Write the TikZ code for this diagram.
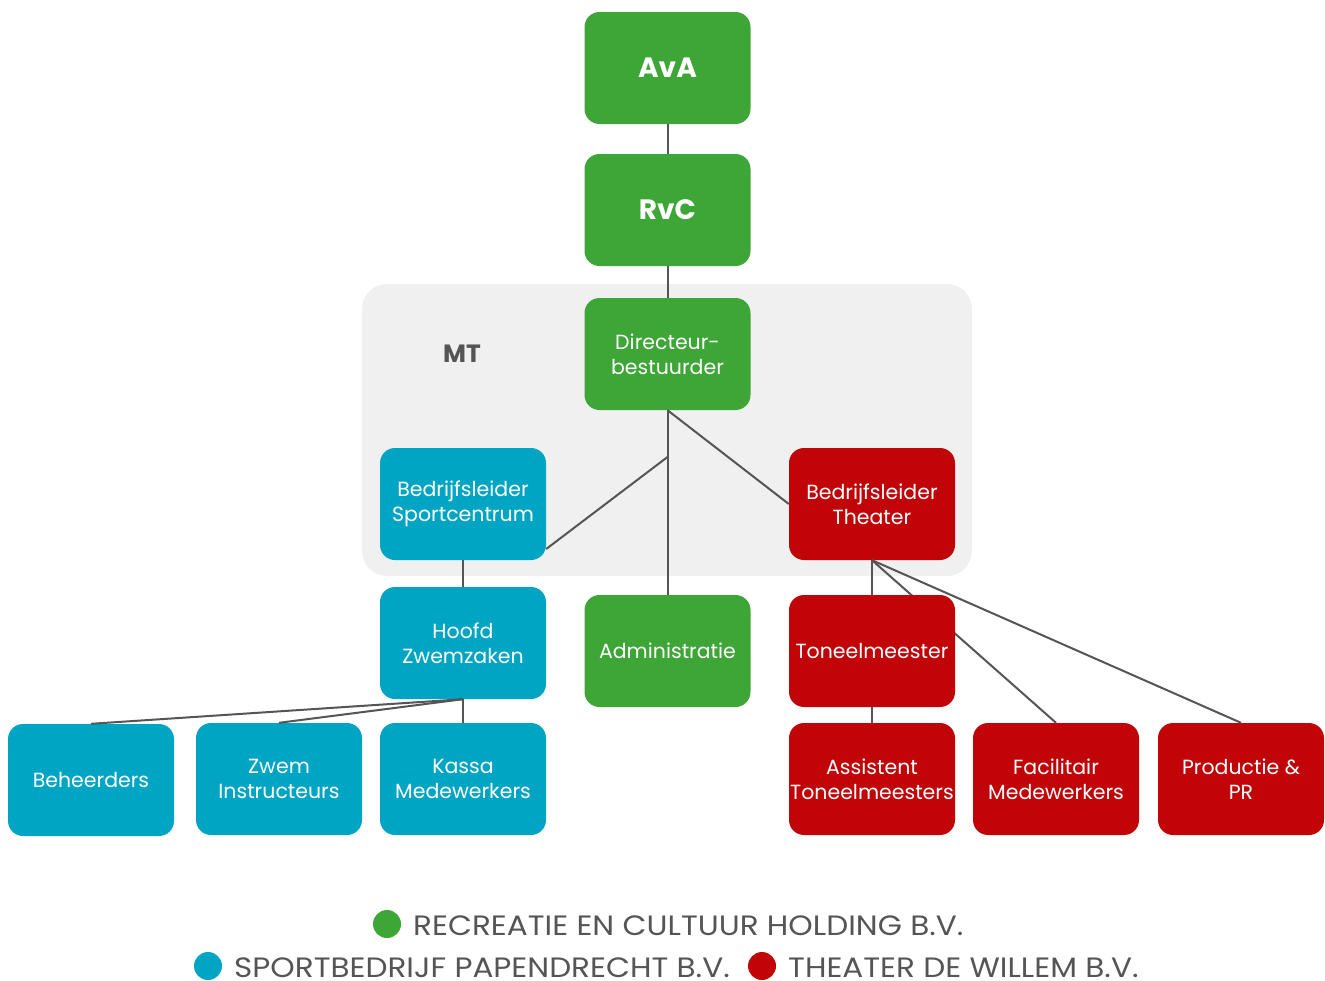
\documentclass[tikz,border=0pt]{standalone}
\usepackage{fontspec}
\setmainfont{Poppins}
\definecolor{cgreen}{HTML}{3DA636}
\definecolor{cblue}{HTML}{00A5C4}
\definecolor{cred}{HTML}{C00407}
\definecolor{cline}{HTML}{555555}
\definecolor{cmt}{HTML}{F0F0F0}
\definecolor{ctext}{HTML}{555555}
\tikzset{
  box/.style={rounded corners=15pt, minimum width=166pt, minimum height=112pt, inner sep=0pt,
    text=white, align=center, font=\fontsize{20.5}{25}\selectfont},
  gbox/.style={box, fill=cgreen},
  bbox/.style={box, fill=cblue},
  rbox/.style={box, fill=cred},
  bigt/.style={font=\fontsize{28}{32}\selectfont\bfseries},
  conn/.style={draw=cline, line width=2pt},
  legtext/.style={text=ctext, anchor=west, inner sep=0pt, font=\fontsize{28}{32}\selectfont},
  dot/.style={circle, minimum size=28pt, inner sep=0pt},
}
\newcommand{\legw}[1]{\scalebox{1.11}[1]{#1}}
\begin{document}
\begin{tikzpicture}[x=1pt,y=-1pt]
\useasboundingbox (0,0) rectangle (1325,980);
% MT background
\fill[cmt, rounded corners=25pt] (362,284) rectangle (972,576);
\node[text=ctext, font=\fontsize{25}{28}\selectfont\bfseries] (mt) at (462,354) {MT};
\coordinate (mid) at (667.5,457);
\node[gbox, bigt] (ava) at (667.5,68) {AvA};
\node[gbox, bigt] (rvc) at (667.5,210) {RvC};
\node[gbox] (dir) at (667.5,354) {Directeur-\\bestuurder};
\node[bbox] (bs) at (463,504) {Bedrijfsleider\\Sportcentrum};
\node[rbox] (bt) at (872,504) {Bedrijfsleider\\Theater};
\node[bbox] (hz) at (463,643) {Hoofd\\Zwemzaken};
\node[gbox] (adm) at (667.5,651) {Administratie};
\node[bbox] (beh) at (91,780) {Beheerders};
\node[bbox] (zwi) at (279,779) {Zwem\\Instructeurs};
\node[bbox] (kas) at (463,779) {Kassa\\Medewerkers};
\node[rbox] (ast) at (872,779) {Assistent\\Toneelmeesters};
\node[rbox] (fac) at (1056,779) {Facilitair\\Medewerkers};
\node[rbox] (pro) at (1241,779) {Productie \&\\PR};
% connectors
\draw[conn] (ava.south) -- (rvc.north);
\draw[conn] (rvc.south) -- (dir.north);
\draw[conn] (dir.south) -- (adm.north);
\draw[conn] (dir.south) -- (bt.west);
\draw[conn] (mid) -- (bs.south east |- 0,549);
\draw[conn] (bs.south) -- (hz.north);
\draw[conn] (hz.south) -- (kas.north);
\draw[conn] (hz.south) -- (beh.north);
\draw[conn] (hz.south) -- (zwi.north);
\draw[conn] (bt.south) -- (pro.north);
\draw[conn] (bt.south) -- (fac.north);
\draw[conn] (bt.south) -- (ast.north);
% Toneelmeester on top of the Facilitair line
\node[rbox] (ton) at (872,651) {Toneelmeester};
% legend
\node[dot, fill=cgreen] (lg) at (387,924) {};
\node[legtext] (lgt) at (413,926) {\legw{RECREATIE EN CULTUUR HOLDING B.V.}};
\node[dot, fill=cblue] (lb) at (208,966) {};
\node[legtext] (lbt) at (234,968) {\legw{SPORTBEDRIJF PAPENDRECHT B.V.}};
\node[dot, fill=cred] (lr) at (762,966) {};
\node[legtext] (lrt) at (788,968) {\legw{THEATER DE WILLEM B.V.}};
\end{tikzpicture}
\end{document}
